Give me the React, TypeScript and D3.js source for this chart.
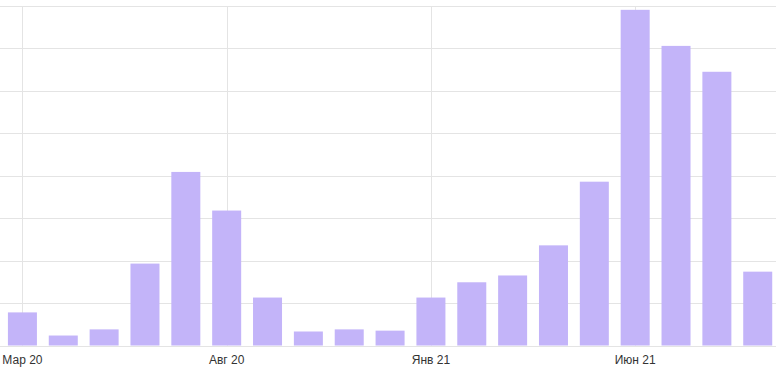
import React from "react";
import * as d3 from "d3";

const months = [
  "2020-03", "2020-04", "2020-05", "2020-06", "2020-07", "2020-08", "2020-09", "2020-10",
  "2020-11", "2020-12", "2021-01", "2021-02", "2021-03", "2021-04", "2021-05", "2021-06",
  "2021-07", "2021-08", "2021-09",
];
const values = [7.8, 2.35, 3.8, 19.3, 40.9, 31.8, 11.3, 3.3, 3.8, 3.5, 11.3, 14.9, 16.5, 23.6, 38.6, 79.1, 70.6, 64.5, 17.4];
const tickMonths = ["2020-03", "2020-08", "2021-01", "2021-06"];
const tickLabels = ["Мар 20", "Авг 20", "Янв 21", "Июн 21"];
const yTicks = [0, 10, 20, 30, 40, 50, 60, 70, 80];

const W = 776;
const H = 374;

export default function App() {
  const step = 40.85;
  const x = d3
    .scaleBand<string>()
    .domain(months)
    .range([2, 2 + months.length * step])
    .paddingInner(0.29)
    .paddingOuter(0.145);
  const y = d3.scaleLinear().domain([0, 80]).range([345.5, 6]);
  const cx = (m: string) => (x(m) as number) + x.bandwidth() / 2;

  return (
    <svg
      width={W}
      height={H}
      style={{ position: "absolute", left: 0, top: 0, background: "#fff" }}
      fontFamily="'Liberation Sans', Arial, sans-serif"
    >
      <g>
        {yTicks.map((t) => (
          <line key={t} x1={0} x2={W} y1={Math.round(y(t)) + 0.5} y2={Math.round(y(t)) + 0.5} stroke="#e4e4e4" strokeWidth={1} />
        ))}
        {tickMonths.map((m) => (
          <line key={m} x1={Math.round(cx(m)) + 0.5} x2={Math.round(cx(m)) + 0.5} y1={y(80)} y2={y(0)} stroke="#e4e4e4" strokeWidth={1} />
        ))}
      </g>
      <g>
        {months.map((m, i) => (
          <rect
            key={m}
            x={x(m)}
            y={y(values[i])}
            width={x.bandwidth()}
            height={y(0) - y(values[i])}
            fill="#c3b4f9"
          />
        ))}
      </g>
      <g>
        {tickMonths.map((m, i) => (
          <text key={m} x={cx(m)} y={364} textAnchor="middle" fontSize={12} fill="#333">
            {tickLabels[i]}
          </text>
        ))}
      </g>
    </svg>
  );
}
